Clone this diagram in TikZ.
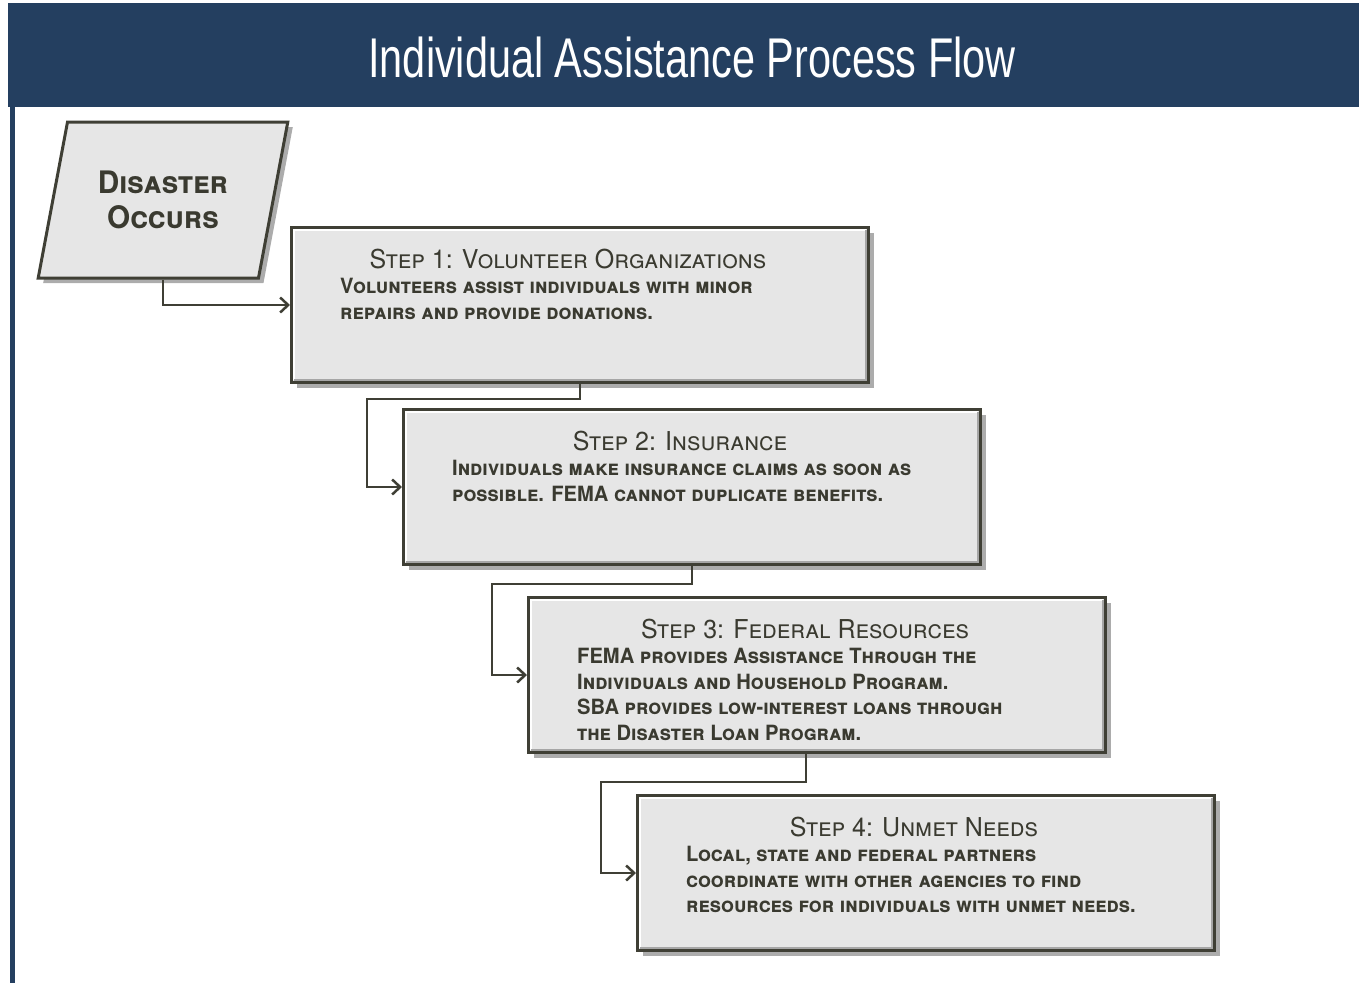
\documentclass[tikz,border=0pt]{standalone}
\usepackage{fontspec}
\setmainfont{TeX Gyre Heros}[FakeStretch=0.96]
\newfontfamily\hdrfont{Liberation Sans}[FakeStretch=0.74]
\usetikzlibrary{positioning,shapes.geometric,shadows,arrows.meta}
\definecolor{hdrblue}{HTML}{243F60}
\definecolor{boxgray}{HTML}{E6E6E6}
\definecolor{edgegray}{HTML}{3F3F35}
\definecolor{inkgray}{HTML}{3A3A30}

\begin{document}
\begin{tikzpicture}[x=1pt,y=-1pt,on grid,
		stepbox/.style={rectangle, draw=edgegray, line width=3pt, fill=boxgray,
			minimum width=577pt, minimum height=155pt,
			drop shadow={shadow xshift=5pt, shadow yshift=-5pt, opacity=0.65}},
		startbox/.style={trapezium, trapezium left angle=72, trapezium right angle=108,
			trapezium stretches=true, draw=edgegray, line width=3pt, fill=boxgray,
			minimum height=156pt, minimum width=250pt, text=inkgray, align=center,
			font=\fontsize{31}{35}\selectfont\bfseries\scshape,
			drop shadow={shadow xshift=5pt, shadow yshift=-5pt, opacity=0.65}},
		steptitle/.style={anchor=base, inner sep=0pt, text=inkgray,
			font=\fontsize{26}{30}\selectfont\scshape},
		stepbody/.style={anchor=north west, inner sep=0pt, align=left, text=inkgray,
			font=\fontsize{21}{25.5}\selectfont\bfseries\scshape},
		flow/.style={draw=edgegray, line width=2.5pt,
			-{Straight Barb[length=8pt,width=15pt,line width=2.5pt]}}]
	\useasboundingbox (0,0) rectangle (1359,983);
	% header
	\fill[hdrblue] (8,3) rectangle (1359,107);
	\fill[hdrblue] (10,107) rectangle (15,983);
	\node[anchor=base, text=white, font=\hdrfont\fontsize{56}{60}\selectfont] (hdr) at (692,77)
		{Individual Assistance Process Flow};
	% steps
	\node[startbox] (dis) at (163,200) {Disaster\\Occurs};
	\node[stepbox] (s1) at (580,305) {};
	\node[stepbox] (s2) [below right=182pt and 112pt of s1] {};
	\node[stepbox] (s3) [below right=188pt and 125pt of s2] {};
	\node[stepbox] (s4) [below right=198pt and 109pt of s3] {};
	% bevel
	\foreach \s in {s1,s2,s3,s4} {
		\draw[white, line width=2.5pt] ([shift={(4,-4)}]\s.south west) -- ([shift={(4,4)}]\s.north west)
			-- ([shift={(-4,4)}]\s.north east);
		\draw[gray!70, line width=2.5pt] ([shift={(-4,4)}]\s.north east) -- ([shift={(-4,-4)}]\s.south east)
			-- ([shift={(4,-4)}]\s.south west);
	}
	% texts
	\node[steptitle] (t1) at ([shift={(-12,42)}]s1.north) {Step 1: Volunteer Organizations};
	\node[stepbody] (b1) at ([shift={(50,52)}]s1.north west)
		{Volunteers assist individuals with minor\\repairs and provide donations.};
	\node[steptitle] (t2) at ([shift={(-12,42)}]s2.north) {Step 2: Insurance};
	\node[stepbody] (b2) at ([shift={(50,52)}]s2.north west)
		{Individuals make insurance claims as soon as\\possible. FEMA cannot duplicate benefits.};
	\node[steptitle] (t3) at ([shift={(-12,42)}]s3.north) {Step 3: Federal Resources};
	\node[stepbody] (b3) at ([shift={(50,52)}]s3.north west)
		{FEMA provides Assistance Through the\\Individuals and Household Program.\\
		SBA provides low-interest loans through\\the Disaster Loan Program.};
	\node[steptitle] (t4) at ([shift={(-12,42)}]s4.north) {Step 4: Unmet Needs};
	\node[stepbody] (b4) at ([shift={(50,52)}]s4.north west)
		{Local, state and federal partners\\coordinate with other agencies to find\\
		resources for individuals with unmet needs.};
	% connectors
	\draw[flow] (dis.south) |- (s1.west);
	\draw[flow] (s1.south) -- ++(0,15) -| ([xshift=-35pt]s2.west) |- (s2.west);
	\draw[flow] (s2.south) -- ++(0,18) -| ([xshift=-35pt]s3.west) |- (s3.west);
	\draw[flow] ([xshift=-11pt]s3.south) -- ++(0,28) -| ([xshift=-35pt]s4.west) |- (s4.west);
\end{tikzpicture}
\end{document}
